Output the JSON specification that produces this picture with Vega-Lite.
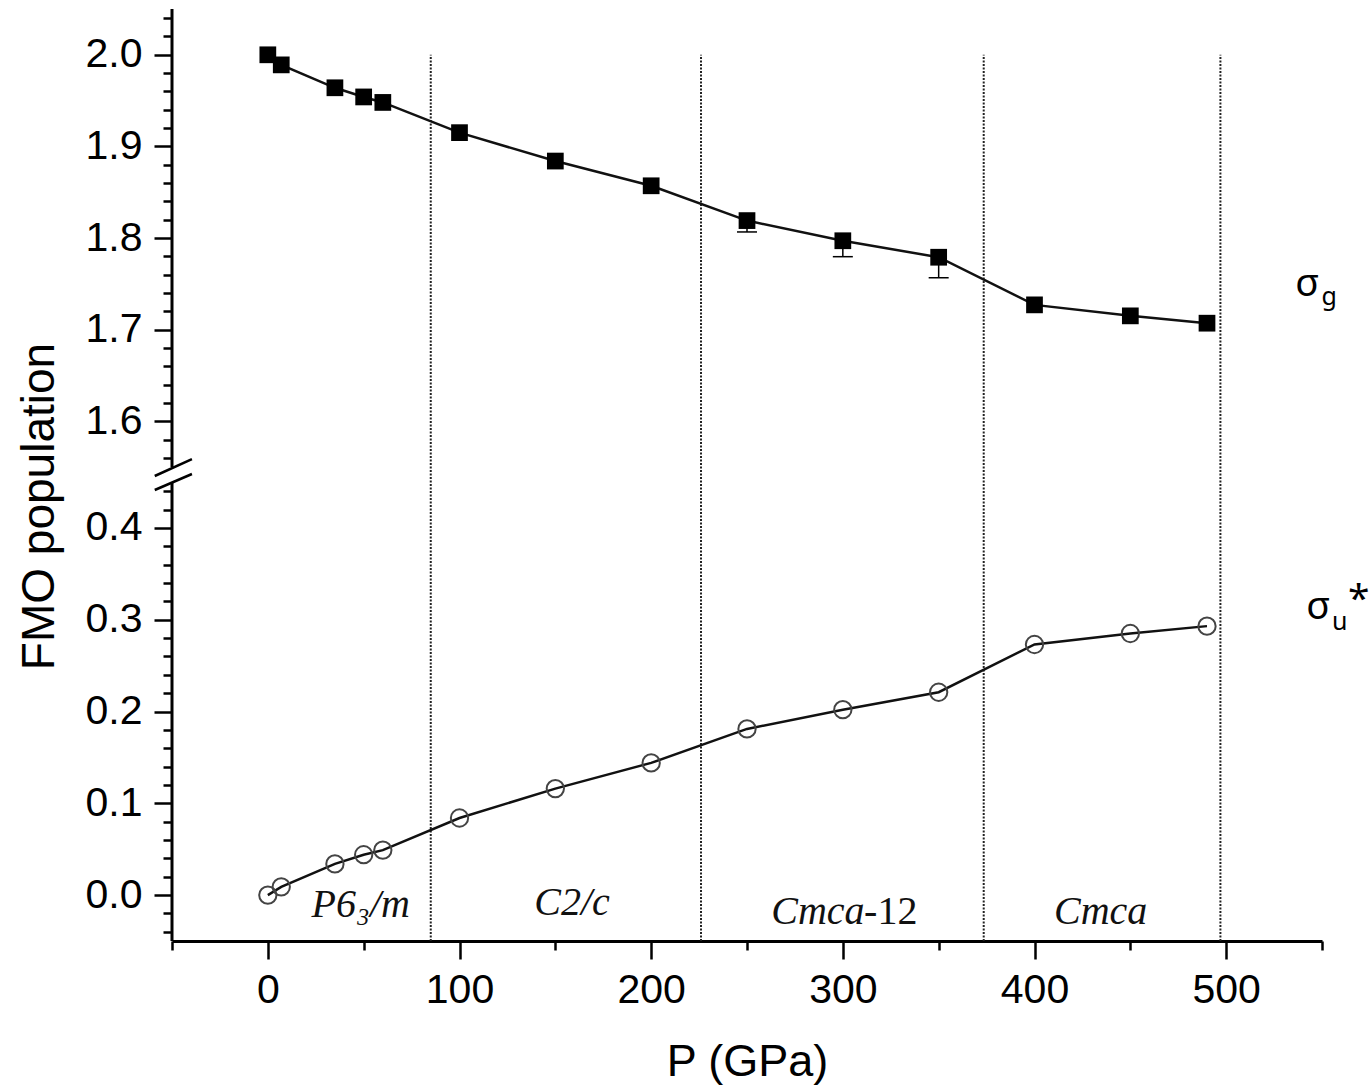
{
  "$schema": "https://vega.github.io/schema/vega-lite/v6.json",
  "width": 1150,
  "height": 932,
  "autosize": {"type": "none"},
  "padding": {"left": 172, "top": 9, "right": 48, "bottom": 151},
  "background": "white",
  "config": {"view": {"stroke": null}, "font": "Liberation Sans", "axis": {"grid": false}},
  "datasets": {
    "sg": [
      {"x": 0, "y": 2.0}, {"x": 7, "y": 1.989}, {"x": 35, "y": 1.964}, {"x": 50, "y": 1.954},
      {"x": 60, "y": 1.948}, {"x": 100, "y": 1.915}, {"x": 150, "y": 1.884}, {"x": 200, "y": 1.857},
      {"x": 250, "y": 1.819}, {"x": 300, "y": 1.797}, {"x": 350, "y": 1.779}, {"x": 400, "y": 1.727},
      {"x": 450, "y": 1.715}, {"x": 490, "y": 1.707}
    ],
    "su": [
      {"x": 0, "y": 0.0}, {"x": 7, "y": 0.009}, {"x": 35, "y": 0.034}, {"x": 50, "y": 0.044},
      {"x": 60, "y": 0.049}, {"x": 100, "y": 0.084}, {"x": 150, "y": 0.116}, {"x": 200, "y": 0.144},
      {"x": 250, "y": 0.181}, {"x": 300, "y": 0.202}, {"x": 350, "y": 0.221}, {"x": 400, "y": 0.273},
      {"x": 450, "y": 0.285}, {"x": 490, "y": 0.293}
    ],
    "err": [
      {"x": 250, "y": 1.819, "lo": 1.8066},
      {"x": 300, "y": 1.797, "lo": 1.7796},
      {"x": 350, "y": 1.779, "lo": 1.7566}
    ],
    "bounds": [
      {"x": 85, "y": -0.05, "y2": 2.0},
      {"x": 226, "y": -0.05, "y2": 2.0},
      {"x": 373.5, "y": -0.05, "y2": 2.0},
      {"x": 497, "y": -0.05, "y2": 2.0}
    ],
    "yaxis": [
      {"x": -50, "y": -0.05, "y2": 0.45},
      {"x": -50, "y": 1.55, "y2": 2.05}
    ],
    "brk": [
      {"x": -59, "x2": -39.6, "y": 0.89, "y2": 1.5587},
      {"x": -59, "x2": -39.6, "y": 0.4413, "y2": 1.037}
    ],
    "phaseIt": [
      {"label": "P6₃/m", "x": 48.5, "y": -0.024},
      {"label": "C2/c", "x": 158.7, "y": -0.0218},
      {"label": "Cmca", "x": 287, "y": -0.032},
      {"label": "Cmca", "x": 434.5, "y": -0.032}
    ],
    "phaseRm": [
      {"label": "-12", "x": 325, "y": -0.032}
    ],
    "sig": [
      {"label": "σ", "x": 542.3, "y": 1.7366},
      {"label": "σ", "x": 548.0, "y": 0.3008}
    ],
    "sub": [
      {"label": "g", "x": 553.8, "y": 1.7268},
      {"label": "u", "x": 559.2, "y": 0.2885}
    ],
    "ast": [
      {"label": "*", "x": 569.2, "y": 0.3085}
    ]
  },
  "resolve": {"axis": {"x": "independent", "y": "independent"}},
  "encoding": {
    "x": {"field": "x", "type": "quantitative", "scale": {"domain": [-50, 550], "nice": false, "zero": false}, "axis": null},
    "y": {"field": "y", "type": "quantitative", "scale": {"domain": [-0.05, 0.45, 1.55, 2.05], "range": [932, 473, 458, 0], "nice": false, "zero": false}, "axis": null}
  },
  "layer": [
    {
      "data": {"name": "bounds"},
      "mark": {"type": "rule", "color": "#222", "strokeWidth": 2, "strokeDash": [2, 1.5]},
      "encoding": {"y2": {"field": "y2"}}
    },
    {
      "data": {"name": "yaxis"},
      "mark": {"type": "rule", "color": "black", "strokeWidth": 3},
      "encoding": {"y2": {"field": "y2"}}
    },
    {
      "data": {"name": "brk"},
      "mark": {"type": "rule", "color": "black", "strokeWidth": 2.5},
      "encoding": {"x2": {"field": "x2"}, "y2": {"field": "y2"}}
    },
    {
      "data": {"name": "sg"},
      "mark": {"type": "line", "color": "#111", "strokeWidth": 2.5},
      "encoding": {
        "x": {"field": "x", "type": "quantitative", "scale": {"domain": [-50, 550], "nice": false, "zero": false},
          "axis": {"orient": "bottom", "values": [0, 100, 200, 300, 400, 500], "format": "d", "domain": true, "domainWidth": 3, "domainColor": "black",
            "tickSize": 18, "tickWidth": 2.5, "tickColor": "black", "labelFont": "Liberation Sans", "labelFontSize": 41, "labelColor": "black", "labelPadding": 11,
            "labelFlush": false, "labelOverlap": false, "grid": false,
            "title": "P (GPa)", "titleFont": "Liberation Sans", "titleFontSize": 45, "titleFontWeight": "normal", "titleColor": "black", "titlePadding": 29}},
        "y": {"field": "y", "type": "quantitative", "scale": {"domain": [-0.05, 0.45, 1.55, 2.05], "range": [932, 473, 458, 0], "nice": false, "zero": false},
          "axis": {"orient": "left", "values": [0, 0.1, 0.2, 0.3, 0.4, 1.6, 1.7, 1.8, 1.9, 2.0], "format": ".1f", "domain": false,
            "tickSize": 18, "tickWidth": 2.5, "tickColor": "black", "labelFont": "Liberation Sans", "labelFontSize": 41, "labelColor": "black", "labelPadding": 12,
            "labelFlush": false, "labelOverlap": false, "grid": false,
            "title": "FMO population", "titleFont": "Liberation Sans", "titleFontSize": 46, "titleFontWeight": "normal", "titleColor": "black", "titlePadding": 22, "titleY": 497}}
      }
    },
    {
      "data": {"name": "su"},
      "mark": {"type": "line", "color": "#111", "strokeWidth": 2.5},
      "encoding": {
        "x": {"field": "x", "type": "quantitative", "scale": {"domain": [-50, 550], "nice": false, "zero": false},
          "axis": {"orient": "bottom", "values": [-50, 50, 150, 250, 350, 450, 550], "labels": false, "domain": false,
            "tickSize": 9, "tickWidth": 2.5, "tickColor": "black", "grid": false, "title": null}},
        "y": {"field": "y", "type": "quantitative", "scale": {"domain": [-0.05, 0.45, 1.55, 2.05], "range": [932, 473, 458, 0], "nice": false, "zero": false},
          "axis": {"orient": "left", "values": [-0.04, -0.02, 0.02, 0.04, 0.06, 0.08, 0.12, 0.14, 0.16, 0.18, 0.22, 0.24, 0.26, 0.28, 0.32, 0.34, 0.36, 0.38, 0.42, 0.44, 1.56, 1.58, 1.62, 1.64, 1.66, 1.68, 1.72, 1.74, 1.76, 1.78, 1.82, 1.84, 1.86, 1.88, 1.92, 1.94, 1.96, 1.98, 2.02, 2.04],
            "labels": false, "domain": false, "tickSize": 9, "tickWidth": 2.5, "tickColor": "black", "grid": false, "title": null}}
      }
    },
    {
      "data": {"name": "err"},
      "mark": {"type": "rule", "color": "black", "strokeWidth": 1.5},
      "encoding": {"y2": {"field": "lo"}}
    },
    {
      "data": {"name": "err"},
      "mark": {"type": "point", "shape": "M-1,0H1", "size": 400, "filled": false, "stroke": "black", "strokeWidth": 1.5, "opacity": 1},
      "encoding": {"y": {"field": "lo", "type": "quantitative", "scale": {"domain": [-0.05, 0.45, 1.55, 2.05], "range": [932, 473, 458, 0], "nice": false, "zero": false}, "axis": null}}
    },
    {
      "data": {"name": "sg"},
      "mark": {"type": "point", "shape": "square", "size": 280, "filled": true, "color": "black", "opacity": 1}
    },
    {
      "data": {"name": "su"},
      "mark": {"type": "point", "shape": "circle", "size": 300, "filled": false, "stroke": "#444", "strokeWidth": 2, "opacity": 1}
    },
    {
      "data": {"name": "phaseIt"},
      "mark": {"type": "text", "font": "Liberation Serif", "fontStyle": "italic", "fontSize": 40, "align": "center", "baseline": "alphabetic", "color": "#111"},
      "encoding": {"text": {"field": "label"}}
    },
    {
      "data": {"name": "phaseRm"},
      "mark": {"type": "text", "font": "Liberation Serif", "fontSize": 40, "align": "center", "baseline": "alphabetic", "color": "#111"},
      "encoding": {"text": {"field": "label"}}
    },
    {
      "data": {"name": "sig"},
      "mark": {"type": "text", "font": "Noto Sans", "fontSize": 39, "align": "center", "baseline": "alphabetic", "color": "black"},
      "encoding": {"text": {"field": "label"}}
    },
    {
      "data": {"name": "sub"},
      "mark": {"type": "text", "font": "Noto Sans", "fontSize": 25, "align": "center", "baseline": "alphabetic", "color": "black"},
      "encoding": {"text": {"field": "label"}}
    },
    {
      "data": {"name": "ast"},
      "mark": {"type": "text", "font": "Noto Sans", "fontSize": 39, "align": "center", "baseline": "alphabetic", "color": "black"},
      "encoding": {"text": {"field": "label"}}
    }
  ]
}
